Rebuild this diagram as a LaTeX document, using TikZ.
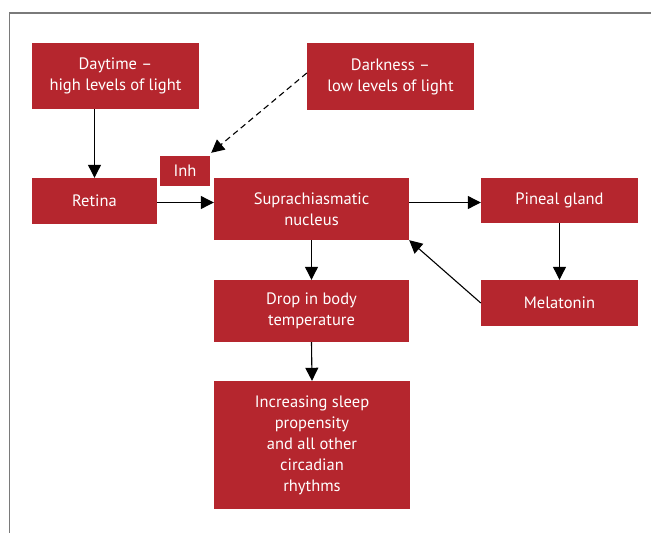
\documentclass[tikz,border=0pt]{standalone}
\usepackage{fontspec}
\setmainfont{PT Sans}
\usetikzlibrary{arrows.meta,calc}
\definecolor{boxred}{HTML}{B5262E}
\definecolor{framegray}{HTML}{7A7A7A}
\tikzset{
  redbox/.style={fill=boxred, text=white, align=center, inner sep=0pt,
    font=\fontsize{16.5}{21}\selectfont},
  conn/.style={draw=black, line width=1.1pt, -{Triangle[length=13pt,width=13pt]}},
}
\begin{document}
\begin{tikzpicture}[x=1pt,y=-1pt]
\useasboundingbox (0,0) rectangle (651,533);
\draw[framegray, line width=1.5pt] (9.5,533) -- (9.5,13) -- (651,13);

\node[redbox, minimum width=167pt, minimum height=66pt] (day) at (115.5,76) {Daytime --\\high levels of light};
\node[redbox, minimum width=167pt, minimum height=67pt] (dark) at (390.5,76.5) {Darkness --\\low levels of light};
\node[redbox, minimum width=50pt, minimum height=30pt] (inh) at (185,171) {Inh};
\node[redbox, minimum width=195pt, minimum height=62pt] (scn) at (311.5,209) {Suprachiasmatic\\nucleus};
\node[redbox, minimum width=125pt, minimum height=46pt] (ret) at (94.5,201) {Retina};
\node[redbox, minimum width=157pt, minimum height=45pt] (pin) at (559.5,200.5) {Pineal gland};
\node[redbox, minimum width=157pt, minimum height=46pt] (mel) at (559.5,303) {Melatonin};
\node[redbox, minimum width=195pt, minimum height=62pt] (drop) at (311.5,311) {Drop in body\\temperature};
\node[redbox, minimum width=196pt, minimum height=128pt] (inc) at (312,445) {Increasing sleep\\propensity\\and all other\\circadian\\rhythms};

\coordinate (inhtip) at ($(inh.north east)+(1,-3)$);
\coordinate (rowy) at (0,202.5);

\draw[conn] (day.south -| ret.north) -- (ret.north);
\draw[conn, dashed, dash pattern=on 6pt off 4pt] ([yshift=3.5pt]dark.west) -- (inhtip);
\draw[conn] (ret.east |- rowy) -- (scn.west |- rowy);
\draw[conn] (scn.east |- rowy) -- (pin.west |- rowy);
\draw[conn] (pin.south) -- (mel.north);
\draw[conn] (mel.west) -- (scn.south east);
\draw[conn] (scn.south) -- (drop.north);
\draw[conn] (drop.south) -- (inc.north);
\end{tikzpicture}
\end{document}
